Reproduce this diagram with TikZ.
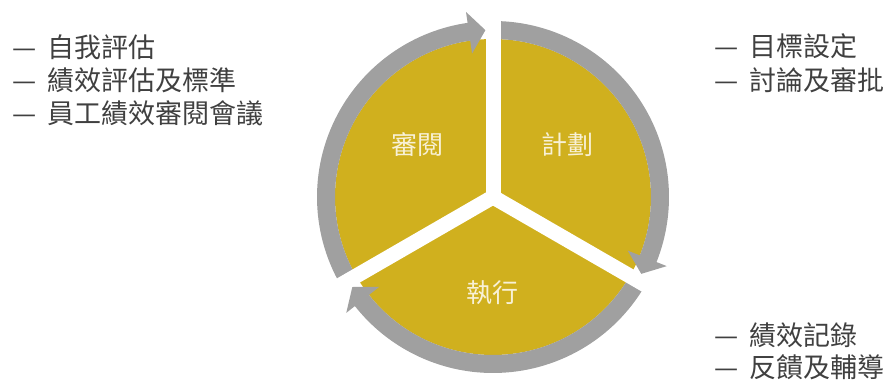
\documentclass[tikz,border=0pt]{standalone}
\usepackage{fontspec}
\setmainfont{Noto Sans CJK TC}
\usetikzlibrary{positioning}

\definecolor{pieyellow}{RGB}{208,176,30}
\definecolor{ringgray}{RGB}{160,160,160}
\definecolor{listgray}{RGB}{64,64,64}
\definecolor{piecream}{RGB}{248,241,214}

\begin{document}
\begin{tikzpicture}[x=1pt,y=1pt]
            \tikzstyle{phase}=[font=\fontsize{26}{26}\selectfont,text=piecream,inner sep=0pt]
            \tikzstyle{item}=[font=\fontsize{27}{27}\selectfont,text=listgray,anchor=west,inner sep=0pt]

            \tikzstyle{gap}=[line width=15pt,draw=white]   % white cut between sectors
            \tikzstyle{ring}=[fill=ringgray]                % arrow band

            \useasboundingbox (0,0) rectangle (887,382);
            \coordinate (c) at (493,185);

            \fill[pieyellow] (c) circle (158pt);

            \begin{scope}[shift={(c)}]
            \foreach \s/\e/\t in {210/98.3/92.6, 90/-21.7/-27.4, -30/-141.7/-147.4}
                \fill[ring] (\s:176pt) arc[start angle=\s,end angle=\e,radius=176pt]
                    -- (\e:187pt) -- (\t:167pt) -- (\e:145pt) -- (\e:158pt)
                    arc[start angle=\e,end angle=\s,radius=158pt] -- cycle;
            \foreach \a in {90,-30,210}
                \draw[gap] (0,0) -- (\a:195pt);
            \end{scope}

            \node[phase] (review) at (417,237) {審閱};
            \node[phase] (plan)   at (567,237) {計劃};
            \node[phase] (run)    at (492,89)  {執行};

            \node[item] (r1) at (12,335) {—\hspace{11pt}自我評估};
            \node[item] (r2) at (12,302) {—\hspace{11pt}績效評估及標準};
            \node[item] (r3) at (12,269) {—\hspace{11pt}員工績效審閱會議};

            \node[item] (p1) at (714,336) {—\hspace{11pt}目標設定};
            \node[item] (p2) at (714,302) {—\hspace{11pt}討論及審批};

            \node[item] (x1) at (714,47) {—\hspace{11pt}績效記錄};
            \node[item] (x2) at (714,15) {—\hspace{11pt}反饋及輔導};
        \end{tikzpicture}
\end{document}
